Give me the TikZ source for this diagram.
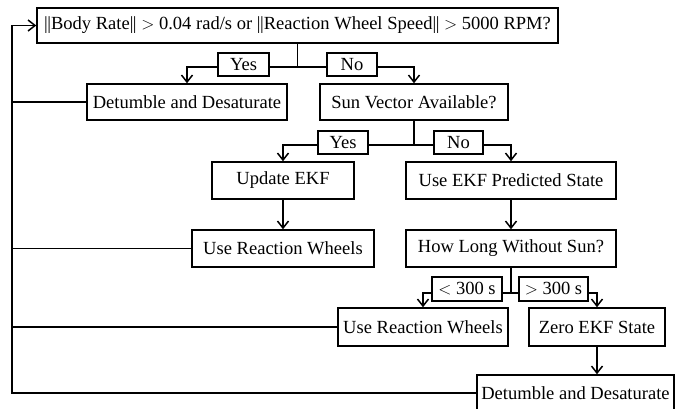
\documentclass[tikz,border=0pt]{standalone}
\usepackage{fontspec}
\setmainfont{Liberation Serif}
\usetikzlibrary{arrows.meta}

\newcommand{\flowfont}{\fontsize{18.6}{21}\selectfont}
\newcommand{\nrm}{|\kern-0.5pt|}

\tikzset{
  box/.style={draw, line width=1.5bp, fill=white, inner sep=0pt, font=\flowfont},
  lbl/.style={draw, line width=1.5bp, fill=white, inner sep=0pt, font=\flowfont},
  link/.style={line width=1.5bp},
  arr/.style={line width=1.5bp, -{Straight Barb[length=7bp,width=11bp]}},
}

\begin{document}
\begin{tikzpicture}[x=1bp, y=-1bp]
  \useasboundingbox (0,0) rectangle (693,408);

  % decision and action boxes
  \node[box, minimum width=521bp, minimum height=35bp] (top)  at (297.5,25.5)
    {\nrm Body Rate\nrm{} $>$ 0.04 rad/s or \nrm Reaction Wheel Speed\nrm{} $>$ 5000 RPM?};
  \node[box, minimum width=200bp, minimum height=36bp] (det1) at (187,102) {Detumble and Desaturate};
  \node[box, minimum width=188bp, minimum height=36bp] (sun)  at (414,102) {Sun Vector Available?};
  \node[box, minimum width=142bp, minimum height=37bp] (upd)  at (283,180.5) {Update EKF};
  \node[box, minimum width=210bp, minimum height=37bp] (pred) at (511,180.5) {Use EKF Predicted State};
  \node[box, minimum width=182bp, minimum height=37bp] (urw1) at (283,248.5) {Use Reaction Wheels};
  \node[box, minimum width=210bp, minimum height=37bp] (how)  at (511,248.5) {How Long Without Sun?};
  \node[box, minimum width=170bp, minimum height=38bp] (urw2) at (423,327) {Use Reaction Wheels};
  \node[box, minimum width=136bp, minimum height=38bp] (zero) at (597,327) {Zero EKF State};
  \node[box, minimum width=197bp, minimum height=36bp] (det2) at (575.5,393) {Detumble and Desaturate};

  % branch points
  \coordinate (s1) at (297.5,67);
  \coordinate (s2) at (414,145);
  \coordinate (s3) at (511,293);
  \coordinate (fbx) at (12,0);

  % branches
  \draw[link] (top.south) -- (s1);
  \draw[arr] (s1) -| (det1.north);
  \draw[arr] (s1) -| (sun.north);
  \draw[link] (sun.south) -- (s2);
  \draw[arr] (s2) -| (upd.north);
  \draw[arr] (s2) -| (pred.north);
  \draw[arr] (upd) -- (urw1);
  \draw[arr] (pred) -- (how);
  \draw[link] (how.south) -- (s3);
  \draw[arr] (s3) -| (urw2.north);
  \draw[arr] (s3) -| (zero.north);
  \draw[arr] (zero.south) -- (det2.north -| zero.south);

  % feedback loop back to the first check
  \draw[arr] (det2.west) -- (det2.west -| fbx) |- (top.west);
  \draw[link] (det1.west) -- (det1.west -| fbx);
  \draw[link] (urw1.west) -- (urw1.west -| fbx);
  \draw[link] (urw2.west) -- (urw2.west -| fbx);

  % branch labels
  \node[lbl, minimum width=51bp, minimum height=23bp] (yes1) at (243.5,64.5) {Yes};
  \node[lbl, minimum width=50bp, minimum height=23bp] (no1)  at (352,64.5) {No};
  \node[lbl, minimum width=50bp, minimum height=23bp] (yes2) at (343,142.5) {Yes};
  \node[lbl, minimum width=49bp, minimum height=23bp] (no2)  at (458.5,142.5) {No};
  \node[lbl, minimum width=70bp, minimum height=24bp] (lt)   at (467,289) {$<$ 300 s};
  \node[lbl, minimum width=69bp, minimum height=24bp] (gt)   at (553.5,289) {$>$ 300 s};
\end{tikzpicture}
\end{document}
